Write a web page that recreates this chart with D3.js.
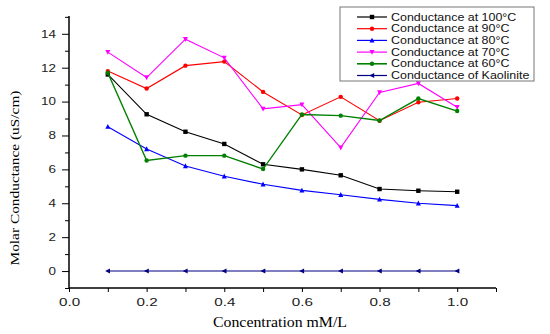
<!DOCTYPE html>
<html>
<head>
<meta charset="utf-8">
<script src="https://cdn.jsdelivr.net/npm/d3@7"></script>
<style>
  body { margin: 0; background: #fff; }
</style>
</head>
<body>
<div id="chart"></div>
<script>
const concentration = [0.1, 0.2, 0.3, 0.4, 0.5, 0.6, 0.7, 0.8, 0.9, 1.0];

const cond100 = [11.6, 9.25, 8.22, 7.5, 6.3, 6.0, 5.65, 4.84, 4.74, 4.68];
const cond90  = [11.8, 10.77, 12.12, 12.36, 10.57, 9.21, 10.28, 8.87, 9.96, 10.18];
const cond80  = [8.52, 7.2, 6.2, 5.59, 5.12, 4.76, 4.5, 4.23, 4.0, 3.86];
const cond70  = [12.92, 11.42, 13.68, 12.58, 9.57, 9.82, 7.28, 10.54, 11.07, 9.67];
const cond60  = [11.7, 6.52, 6.81, 6.81, 6.02, 9.24, 9.17, 8.88, 10.18, 9.44];
const kaolin  = [0, 0, 0, 0, 0, 0, 0, 0, 0, 0];

const seriesNames = [
  "Conductance at 100°C", "Conductance at 90°C", "Conductance at 80°C",
  "Conductance at 70°C", "Conductance at 60°C", "Conductance of Kaolinite"
];
const seriesValues = [cond100, cond90, cond80, cond70, cond60, kaolin];
const seriesColors = ["#000000", "#ff0000", "#0000ff", "#ff00ff", "#008000", "#000080"];
const seriesMarkers = ["square", "circle", "up", "down", "circle", "left"];

const xTicks = [0.0, 0.2, 0.4, 0.6, 0.8, 1.0];
const yTicks = [0, 2, 4, 6, 8, 10, 12, 14];

const width = 550, height = 334;
const margin = {left: 69, right: 54, top: 16, bottom: 46};
const sans = "Liberation Sans, Arial, sans-serif";
const serif = "Liberation Serif, Times New Roman, serif";

const svg = d3.select("#chart").append("svg")
  .attr("width", width)
  .attr("height", height);

const x = d3.scaleLinear().domain([0, 1.1]).range([margin.left, width - margin.right]);
const y = d3.scaleLinear().domain([-1, 15.05]).range([height - margin.bottom, margin.top]);

// the original picture is stretched sideways, so widen the glyphs
function stretch(sel, k) {
  sel.each(function() {
    const w = this.getComputedTextLength();
    if (w > 0) d3.select(this).attr("textLength", w * k).attr("lengthAdjust", "spacingAndGlyphs");
  });
}

// axes
const xAxis = d3.axisBottom(x)
  .tickValues(d3.range(0, 1.1001, 0.1))
  .tickSize(4)
  .tickFormat(d => xTicks.some(t => Math.abs(t - d) < 1e-6) ? d3.format(".1f")(d) : "");

svg.append("g")
  .attr("transform", `translate(0,${height - margin.bottom})`)
  .call(xAxis)
  .call(g => g.select(".domain").attr("d", `M${x(0)},0H${x(1.1)}`).attr("stroke-width", 1.5))
  .call(g => g.selectAll("text")
    .attr("y", 18).attr("dy", 0)
    .attr("font-family", sans).attr("font-size", 10.5).attr("fill", "#222")
    .call(stretch, 1.45));

const yAxis = d3.axisLeft(y)
  .tickValues(d3.range(-1, 15.01, 1))
  .tickSize(0)
  .tickFormat(d => yTicks.includes(d) ? d : "");

svg.append("g")
  .attr("transform", `translate(${margin.left},0)`)
  .call(yAxis)
  .call(g => g.select(".domain").attr("d", `M0,${y(-1)}V${margin.top}`).attr("stroke-width", 1.5))
  .call(g => g.selectAll(".tick line").attr("x2", d => yTicks.includes(d) ? -7 : -4))
  .call(g => g.selectAll("text")
    .attr("x", -13)
    .attr("font-family", sans).attr("font-size", 10.5).attr("fill", "#222")
    .call(stretch, 1.28));

// axis titles
svg.append("text")
  .attr("x", 280)
  .attr("y", 327)
  .attr("text-anchor", "middle")
  .attr("font-family", serif)
  .attr("font-size", 14)
  .attr("textLength", 134)
  .attr("lengthAdjust", "spacingAndGlyphs")
  .text("Concentration mM/L");

svg.append("text")
  .attr("transform", `translate(19,178) rotate(-90)`)
  .attr("text-anchor", "middle")
  .attr("font-family", serif)
  .attr("font-size", 12.5)
  .attr("textLength", 175)
  .attr("lengthAdjust", "spacingAndGlyphs")
  .text("Molar Conductance (uS/cm)");

function marker(type) {
  const s = 2.2;
  if (type === "square") return `M${-s},${-s}h${2*s}v${2*s}h${-2*s}Z`;
  if (type === "circle") return `M${-s},0a${s},${s} 0 1,0 ${2*s},0a${s},${s} 0 1,0 ${-2*s},0`;
  if (type === "up") return `M0,${-s-0.5}L${s+0.3},${s}L${-s-0.3},${s}Z`;
  if (type === "down") return `M0,${s+0.5}L${s+0.3},${-s}L${-s-0.3},${-s}Z`;
  if (type === "left") return `M${-s-0.5},0L${s},${-s-0.3}L${s},${s+0.3}Z`;
}

const line = d3.line().x((d, i) => x(concentration[i])).y(d => y(d));

seriesValues.forEach((vals, k) => {
  const g = svg.append("g");
  g.append("path")
    .attr("d", line(vals))
    .attr("fill", "none")
    .attr("stroke", seriesColors[k])
    .attr("stroke-width", k === 4 ? 1.4 : 1.1);
  g.selectAll("path.m")
    .data(vals)
    .join("path")
    .attr("class", "m")
    .attr("transform", (d, i) => `translate(${x(concentration[i])},${y(d)})`)
    .attr("d", marker(seriesMarkers[k]))
    .attr("fill", seriesColors[k]);
});

// legend
const lg = svg.append("g").attr("transform", "translate(340,7)");
lg.append("rect")
  .attr("width", 194)
  .attr("height", 74)
  .attr("fill", "#fff")
  .attr("stroke", "#777")
  .attr("stroke-width", 1);

seriesNames.forEach((name, k) => {
  const ry = 10 + k * 11.7;
  lg.append("line")
    .attr("x1", 17).attr("x2", 47)
    .attr("y1", ry).attr("y2", ry)
    .attr("stroke", seriesColors[k])
    .attr("stroke-width", k === 4 ? 1.6 : 1.2);
  lg.append("path")
    .attr("transform", `translate(32,${ry})`)
    .attr("d", marker(seriesMarkers[k]))
    .attr("fill", seriesColors[k]);
  lg.append("text")
    .attr("x", 51)
    .attr("y", ry)
    .attr("dy", "0.35em")
    .attr("font-family", sans)
    .attr("font-size", 10.5)
    .attr("fill", "#111")
    .text(name)
    .call(stretch, 1.185);
});
</script>
</body>
</html>
